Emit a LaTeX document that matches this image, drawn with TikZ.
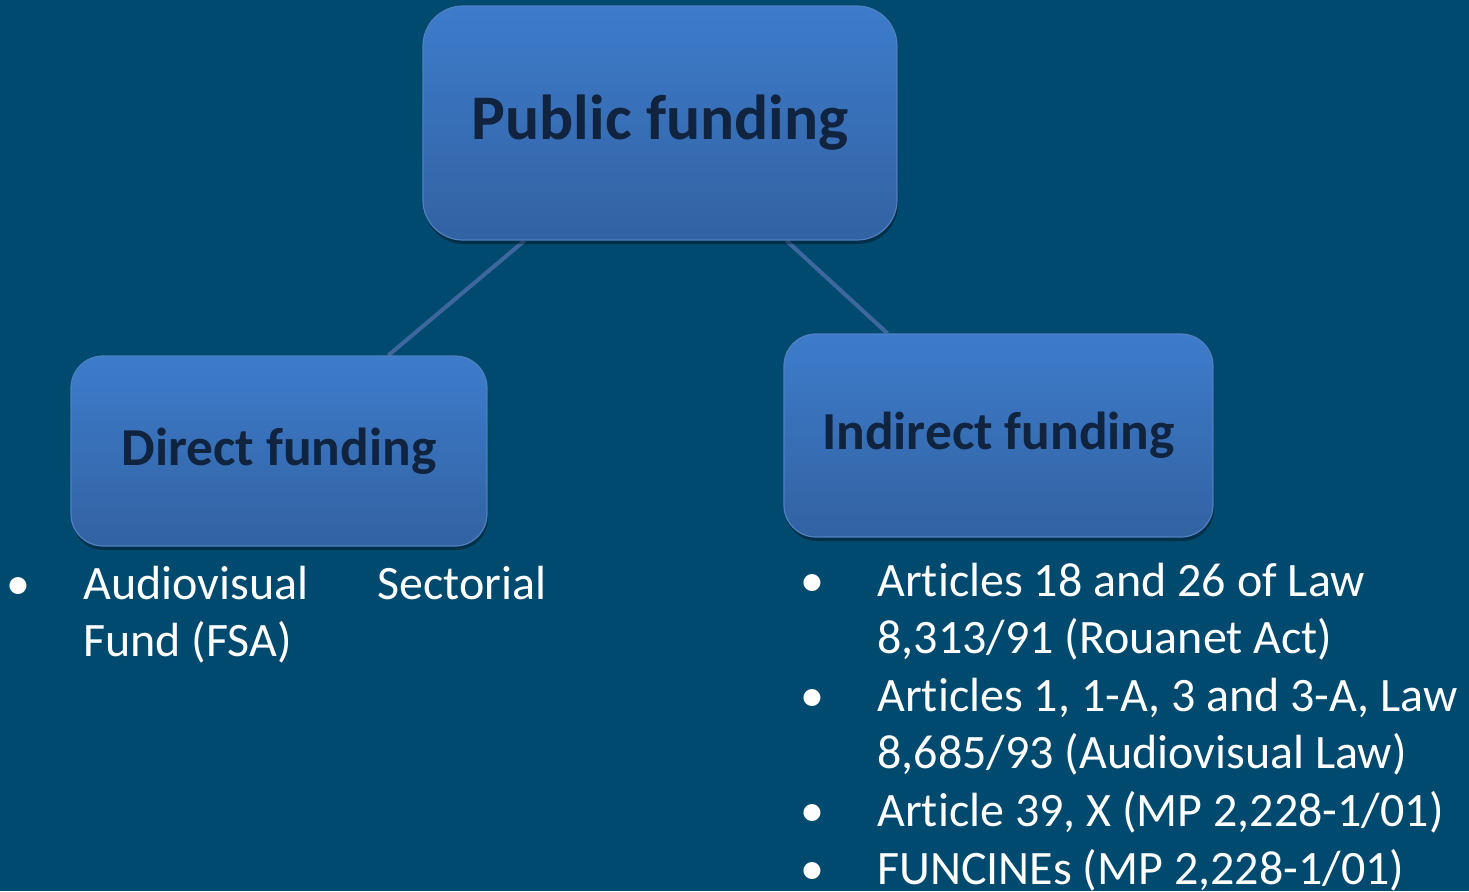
\documentclass[tikz,border=0pt]{standalone}
\usepackage{fontspec}
\setmainfont{Carlito}[Ligatures=NoCommon]
\usepackage{tikz}
\usetikzlibrary{calc,shadows,backgrounds}

\definecolor{bgblue}{HTML}{014A6F}
\definecolor{boxtop}{HTML}{3D7CCB}
\definecolor{boxbot}{HTML}{3262A2}
\definecolor{boxedge}{HTML}{4F80C0}
\definecolor{labelnavy}{HTML}{10233F}
\definecolor{linkblue}{HTML}{3E679E}

\begin{document}
\begin{tikzpicture}[x=0.5pt, y=-0.5pt,
	fundbox/.style={draw=boxedge, line width=0.6pt, top color=boxtop, bottom color=boxbot,
		drop shadow={shadow xshift=0.5pt, shadow yshift=-2pt, opacity=0.35, fill=black},
		text=labelnavy, font=\bfseries, inner sep=0pt, align=center},
	link/.style={draw=linkblue, line width=2pt},
	bullets/.style={anchor=base west, inner sep=0pt, text=white, font=\fontsize{24}{28.8}\selectfont}]
	\useasboundingbox (0,0) rectangle (1469,891);
	% tree of funding types
	\node[fundbox, minimum width=237pt, minimum height=117pt, rounded corners=20pt, font=\fontsize{31.8}{36}\bfseries] (pub) at (660,123) {Public funding};
	\node[fundbox, minimum width=208pt, minimum height=95pt, rounded corners=16pt, font=\fontsize{26.7}{32}\bfseries] (dir) at (279,451) {Direct funding};
	\node[fundbox, minimum width=214.5pt, minimum height=101.5pt, rounded corners=16pt, font=\fontsize{26.7}{32}\bfseries] (ind) at (998.5,435.5) {Indirect funding};

	\coordinate (pubL) at ($(pub.south west)!0.215!(pub.south east)$);
	\coordinate (pubR) at ($(pub.south west)!0.766!(pub.south east)$);
	\coordinate (dirT) at ($(dir.north west)!0.762!(dir.north east)$);
	\coordinate (indT) at ($(ind.north west)!0.242!(ind.north east)$);

	\begin{pgfonlayer}{background}
		\fill[bgblue] (0,0) rectangle (1469,891);
		\draw[link] (pubL) -- (dirT);
		\draw[link] (pubR) -- (indT);
	\end{pgfonlayer}

	% bullet lists under the boxes
	\node[bullets] (dirlist) at (6,599) {%
		\begin{tabular}[t]{@{}p{38.5pt}@{}p{231.5pt}@{}}
			\textbullet & Audiovisual\hfill Sectorial\\
			& Fund (FSA)
		\end{tabular}};
	\node[bullets] (indlist) at (800,596) {%
		\begin{tabular}[t]{@{}p{38.5pt}@{}l@{}}
			\textbullet & Articles 18 and 26 of Law\\
			& 8,313/91 (Rouanet Act)\\
			\textbullet & Articles 1, 1-A, 3 and 3-A, Law\\
			& 8,685/93 (Audiovisual Law)\\
			\textbullet & Article 39, X (MP 2,228-1/01)\\
			\textbullet & FUNCINEs (MP 2,228-1/01)
		\end{tabular}};
\end{tikzpicture}
\end{document}
